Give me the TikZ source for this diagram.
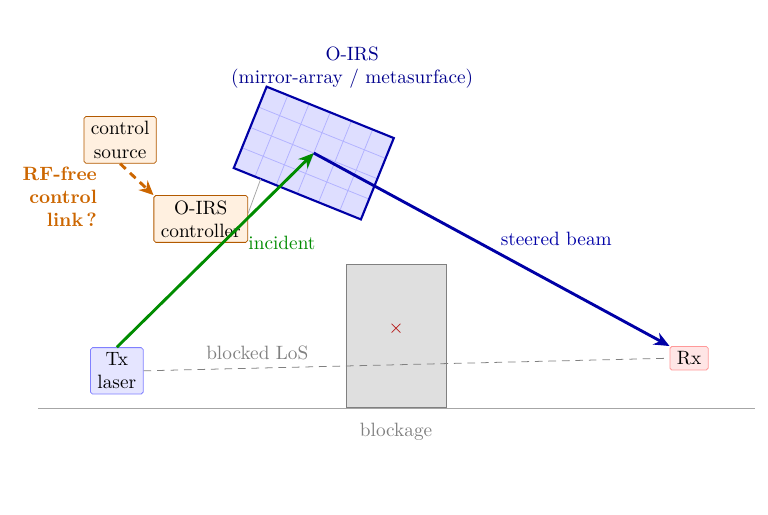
\documentclass[tikz,border=0pt]{standalone}
\usepackage{amsmath}
\usepackage{tikz}
\usetikzlibrary{positioning,arrows.meta}

\begin{document}
\begin{tikzpicture}[
  box/.style={draw, rectangle, rounded corners=1pt, align=center, inner xsep=3.6pt, inner ysep=2.6pt},
  beam/.style={-{Stealth[length=2.8mm,width=2.4mm]}, line width=1.5pt},
  note/.style={align=center, text=gray}
]
\useasboundingbox (0,0) rectangle (14,9.37);

% Ground and blockage
\draw[gray!70] (0.69,1.93) -- (13.76,1.93);
\node[draw=gray, fill=gray!25, minimum width=1.82cm, minimum height=2.61cm, anchor=south] (block) at (7.22,1.93) {};
\node[text=red!70!black] (cross) at (7.22,3.37) {$\times$};
\node[note] (blocklab) at (7.22,1.49) {blockage};

% O-IRS panel
\begin{scope}[shift={(5.72,6.58)}, rotate=-22]
\fill[blue!13] (-1.25,-0.8) rectangle (1.25,0.8);
\foreach \i in {1,...,5}
  \draw[blue!30] ({-1.25+\i*2.5/6},-0.8) -- ({-1.25+\i*2.5/6},0.8);
\foreach \j in {1,...,3}
  \draw[blue!30] (-1.25,{-0.8+\j*0.4}) -- (1.25,{-0.8+\j*0.4});
\draw[blue!65!black, line width=1.1pt] (-1.25,-0.8) rectangle (1.25,0.8);
\coordinate (irs) at (0,0);
\coordinate (irsfoot) at (-0.72,-0.8);
\end{scope}

% Boxes
\node[box, draw=blue!50, fill=blue!10] (tx) at (2.13,2.61) {Tx\\laser};
\node[box, draw=red!40, fill=red!10] (rx) at (12.56,2.84) {Rx};
\node[box, draw=orange!70!black, fill=orange!12] (ctrl) at (3.66,5.38) {O-IRS\\controller};
\node[box, draw=orange!70!black, fill=orange!12] (src) at (2.19,6.82) {control\\source};

% Arrows
\draw[gray, dash pattern=on 4pt off 3pt] (tx.east) -- (rx.west);
\draw[gray!70] ([yshift=1mm]ctrl.east) -- (irsfoot);
\draw[beam, green!55!black] (tx.north) -- (irs);
\draw[beam, blue!65!black] (irs) -- (rx.north west);
\draw[-{Stealth[length=2.6mm,width=2.4mm]}, line width=1.5pt, dash pattern=on 4pt off 3pt, orange!80!black] (src.south) -- (ctrl.north west);

% Labels
\node[align=center, text=blue!55!black] (irslab) at (6.42,8.13) {O-IRS\\(mirror-array / metasurface)};
\node[text=green!55!black] (inclab) at (5.14,4.94) {incident};
\node[text=blue!65!black] (beamlab) at (10.14,5.01) {steered beam};
\node[note] (loslab) at (4.69,2.94) {blocked LoS};
\node[align=right, font=\bfseries, text=orange!80!black] (rflab) at (1.09,5.78) {RF-free\\control\\link\,?};
\end{tikzpicture}
\end{document}
